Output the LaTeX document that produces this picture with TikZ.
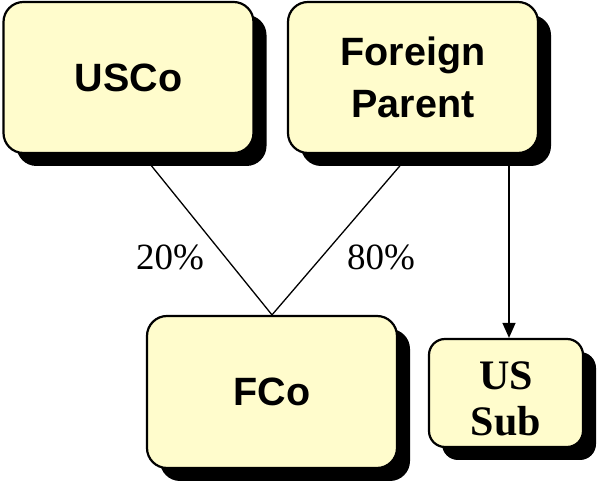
\documentclass[tikz,border=0pt]{standalone}
\usepackage{fontspec}
\setmainfont{Liberation Serif}
\setsansfont{Liberation Sans}
\usetikzlibrary{shadows,calc,arrows.meta,backgrounds}
\begin{document}
\begin{tikzpicture}[x=1pt,y=1pt,
  entity/.style={draw=black, line width=2.2pt, fill=yellow!20, rounded corners=20pt,
    drop shadow={shadow xshift=13pt, shadow yshift=-13pt, fill=black, opacity=1},
    align=center, inner sep=0pt},
  bigbox/.style={entity, minimum width=250pt, minimum height=151pt,
    font=\sffamily\bfseries\fontsize{39.5}{52}\selectfont},
  smallbox/.style={entity, rounded corners=16pt, minimum width=154pt, minimum height=108pt,
    font=\rmfamily\bfseries\fontsize{42}{46}\selectfont},
  link/.style={draw=black, line width=1.3pt},
  pct/.style={font=\rmfamily\fontsize{37}{40}\selectfont, inner sep=0pt}]
\useasboundingbox (0,0) rectangle (597,481);

% ownership entities
\node[bigbox] (USCo) at (128.5,403.5) {USCo};
\node[bigbox] (FP) at (413,403.5) {Foreign\\Parent};
\node[bigbox, minimum height=152pt] (FCo) at (272,89) {FCo};
\node[smallbox] (USSub) at (506,88)
  {\raisebox{-10pt}[\height][\depth]{\begin{tabular}{@{}c@{}}US\\Sub\end{tabular}}};

% shareholding percentages
\node[pct] (p20) at (170,224) {20\%};
\node[pct] (p80) at (381,224) {80\%};

% connectors drawn behind the boxes and their shadows
\begin{pgfonlayer}{background}
  \coordinate (uA) at ($(USCo.south)+(13.5,0)$);
  \coordinate (fA) at ($(FP.south)+(-3,0)$);
  \coordinate (sA) at ($(FP.south)+(96,0)$);
  \draw[link] (uA) -- (FCo.north);
  \draw[link] (fA) -- (FCo.north);
  \draw[link, -{Triangle[length=15pt,width=13pt]}] (sA) -- (sA |- USSub.north);
\end{pgfonlayer}
\end{tikzpicture}
\end{document}
